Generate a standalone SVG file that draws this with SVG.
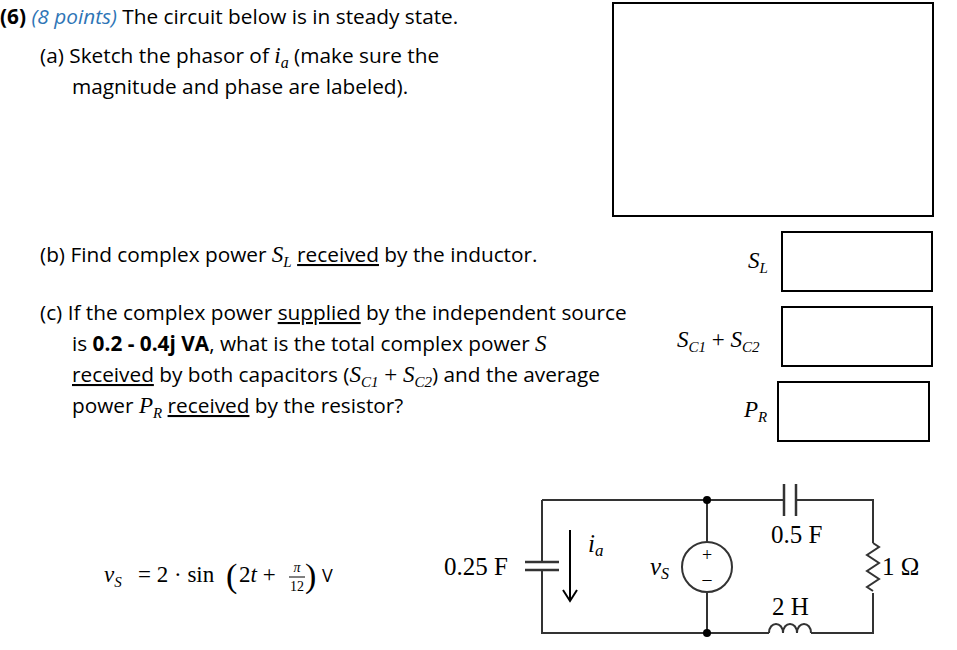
<svg xmlns="http://www.w3.org/2000/svg" width="957" height="650" viewBox="0 0 957 650">
<style>
.t{font-family:"Open Sans","Noto Sans",sans-serif;font-size:20.8px;fill:#000}
.m{font-family:"Liberation Serif",serif;font-size:23px;fill:#000}
.w{stroke:#333;stroke-width:2;fill:none}
.blue{fill:#2e75b6}
</style>
<rect width="957" height="650" fill="#fff"/>
<g id="text">
<text class="t" x="0" y="24"><tspan font-weight="bold">(6)</tspan> <tspan class="blue" font-style="italic">(8 points)</tspan> The circuit below is in steady state.</text>
<text class="t" x="40" y="63">(a) Sketch the phasor of <tspan class="m" font-style="italic">i<tspan style="font-size:16px" dy="5">a</tspan></tspan><tspan dy="-5"> (make sure the</tspan></text>
<text class="t" x="72" y="94">magnitude and phase are labeled).</text>
<text class="t" x="40" y="262">(b) Find complex power <tspan class="m" font-style="italic">S<tspan style="font-size:15px" dy="5">L</tspan></tspan> <tspan dy="-5" text-decoration="underline">received</tspan> by the inductor.</text>
<text class="t" x="40" y="320">(c) If the complex power <tspan text-decoration="underline">supplied</tspan> by the independent source</text>
<text class="t" x="72" y="351">is <tspan font-weight="bold">0.2 - 0.4j VA</tspan>, what is the total complex power <tspan class="m" font-style="italic">S</tspan></text>
<text class="t" x="72" y="382"><tspan text-decoration="underline">received</tspan> by both capacitors (<tspan class="m" font-style="italic">S<tspan style="font-size:15px" dy="5">C1</tspan></tspan><tspan class="m" dy="-5"> + </tspan><tspan class="m" font-style="italic">S<tspan style="font-size:15px" dy="5">C2</tspan></tspan><tspan dy="-5">)  and the average</tspan></text>
<text class="t" x="72" y="413">power <tspan class="m" font-style="italic">P<tspan style="font-size:15px" dy="5">R</tspan></tspan> <tspan dy="-5" text-decoration="underline">received</tspan> by the resistor?</text>
<text class="m" x="748" y="268" font-style="italic">S<tspan style="font-size:15px" dy="5">L</tspan></text>
<text class="m" x="677" y="347" font-style="italic">S<tspan style="font-size:15px" dy="5">C1</tspan><tspan font-style="normal" dy="-5"> + </tspan>S<tspan style="font-size:15px" dy="5">C2</tspan></text>
<text class="m" x="744" y="417" font-style="italic">P<tspan style="font-size:15px" dy="5">R</tspan></text>
</g>
<g id="equation">
<text class="m" x="104" y="582" font-style="italic">v<tspan style="font-size:15px" dy="5">S</tspan></text>
<text class="m" x="138" y="582">= 2 · sin</text>
<text class="m" x="226" y="587" style="font-size:34px">(</text>
<text class="m" x="239" y="582">2<tspan font-style="italic">t</tspan> +</text>
<text class="m" x="297" y="572" style="font-size:14px" font-style="italic" text-anchor="middle">π</text>
<line x1="289" y1="577" x2="305" y2="577" stroke="#000" stroke-width="1"/>
<text class="m" x="297" y="591" style="font-size:14px" text-anchor="middle">12</text>
<text class="m" x="305" y="587" style="font-size:34px">)</text>
<text class="t" x="322" y="582" style="font-size:18px">V</text>
</g>
<g id="boxes" fill="none" stroke="#000" stroke-width="2">
<rect x="613" y="3" width="320" height="213"/>
<rect x="782" y="232" width="150" height="59"/>
<rect x="782" y="307" width="150" height="59"/>
<rect x="778" y="382" width="151" height="59"/>
</g>
<g id="connectors">
<path class="w" d="M542 500H784M796 500H873V543M873 593V633H811M769 633H542V570M542 562V500M707 500V542M707 592V633"/>
<path class="w" d="M873 543l6 4l-12 8l12 8l-12 8l12 8l-12 8l6 4"/>
<path class="w" d="M769 633c0-12 14-12 14 0c0-12 14-12 14 0c0-12 14-12 14 0"/>
<line x1="784" y1="484" x2="784" y2="516" stroke="#333" stroke-width="2.5"/>
<line x1="796" y1="484" x2="796" y2="516" stroke="#333" stroke-width="2.5"/>
<line x1="525" y1="562" x2="559" y2="562" stroke="#333" stroke-width="2.5"/>
<line x1="525" y1="570" x2="559" y2="570" stroke="#333" stroke-width="2.5"/>
<circle cx="707" cy="500" r="4" fill="#000"/>
<circle cx="707" cy="633" r="4" fill="#000"/>
<line x1="570" y1="530" x2="570" y2="600" stroke="#000" stroke-width="2"/>
<path d="M563 590l7 11l7-11" fill="none" stroke="#000" stroke-width="2"/>
</g>
<g id="source">
<circle cx="707" cy="567" r="25" fill="#fff" stroke="#333" stroke-width="2"/>
<text class="m" x="707" y="561" style="font-size:18px" text-anchor="middle">+</text>
<text class="m" x="707" y="585" style="font-size:18px" text-anchor="middle">–</text>
</g>
<g id="labels">
<text class="m" x="588" y="552" font-style="italic" style="font-size:25px">i<tspan style="font-size:17px" dy="4">a</tspan></text>
<text class="m" x="650" y="575" font-style="italic" style="font-size:25px">v<tspan style="font-size:16px" dy="4">S</tspan></text>
<text class="m" x="444" y="575" style="font-size:25px">0.25 F</text>
<text class="m" x="771" y="543" style="font-size:25px">0.5 F</text>
<text class="m" x="772" y="615" style="font-size:25px">2 H</text>
<text class="m" x="882" y="575" style="font-size:25px">1 Ω</text>
</g>
</svg>
